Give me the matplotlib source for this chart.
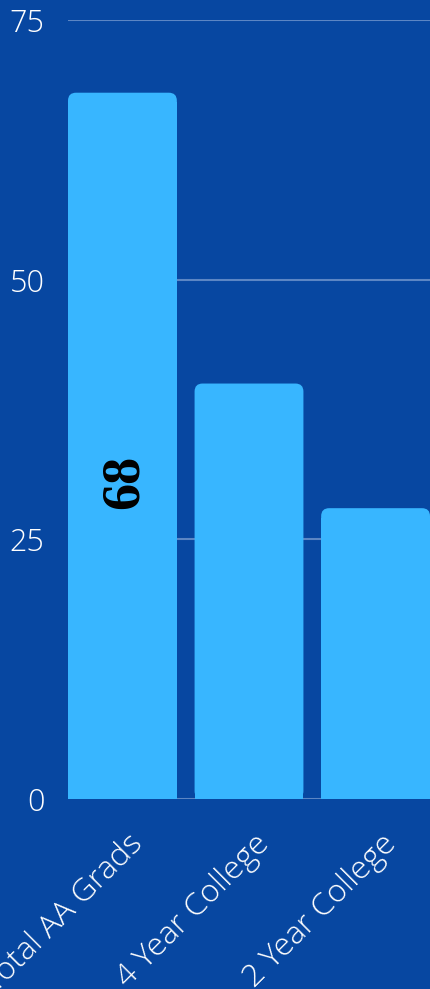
import matplotlib
matplotlib.use("Agg")
import matplotlib.pyplot as plt
from matplotlib.patches import FancyBboxPatch, Rectangle
import matplotlib.transforms as mtransforms

categories = ["Total AA Grads", "4 Year College", "2 Year College"]
values = [68, 40, 28]
yticks = [0, 25, 50, 75]
label_value = 68

BG = "#0747a1"
BAR = "#38b6ff"
GRID = "#5c86c4"
ZERO = "#aab8d2"

fig = plt.figure(figsize=(4.30, 9.89), dpi=100, facecolor=BG)
ax = fig.add_axes([68/430, (989-799)/989, 362/430, 779/989])
ax.set_facecolor(BG)

x = list(range(len(categories)))
bars = ax.bar(x, values, width=0.86, color=BAR, zorder=2)
ax.set_xlim(-0.43, 2.43)
ax.set_ylim(0, 75)

# rounded top corners
rx = 8/126.6
ry = 8/10.39
for b in bars:
    bx, bw, bh = b.get_x(), b.get_width(), b.get_height()
    b.set_visible(False)
    top = FancyBboxPatch((bx, 0), bw, bh, boxstyle=f"round,pad=0,rounding_size={rx}",
                         mutation_aspect=ry/rx, facecolor=BAR, edgecolor="none", zorder=2)
    ax.add_patch(top)
    ax.add_patch(Rectangle((bx, 0), bw, bh - ry*1.2, facecolor=BAR, edgecolor="none", zorder=2))

ax.set_yticks(yticks)
ax.set_yticklabels([str(t) for t in yticks])
ax.grid(axis="y", color=GRID, linewidth=1.5, zorder=0)
ax.axhline(0, color=ZERO, linewidth=2, zorder=1)

for s in ax.spines.values():
    s.set_visible(False)
ax.tick_params(axis="both", length=0)
ax.tick_params(axis="y", pad=17, labelsize=22, labelcolor="white")
for lab in ax.get_yticklabels():
    lab.set_fontfamily("Open Sans")
    lab.set_fontweight("light")

ax.set_xticks(x)
ax.set_xticklabels(categories, rotation=45, ha="right", rotation_mode="anchor", va="center",
                   fontsize=23, color="white", fontfamily="Open Sans", fontweight="light")
ax.tick_params(axis="x", pad=29)
off = mtransforms.ScaledTranslation(16/100, 0, fig.dpi_scale_trans)
for lab in ax.get_xticklabels():
    lab.set_transform(lab.get_transform() + off)

ax.text(0.02, 30.5, str(label_value), rotation=90, ha="center", va="center",
        fontsize=39, fontweight="bold", fontfamily="Liberation Serif", color="black", zorder=3)

fig.savefig("out.png", dpi=100, facecolor=BG)
